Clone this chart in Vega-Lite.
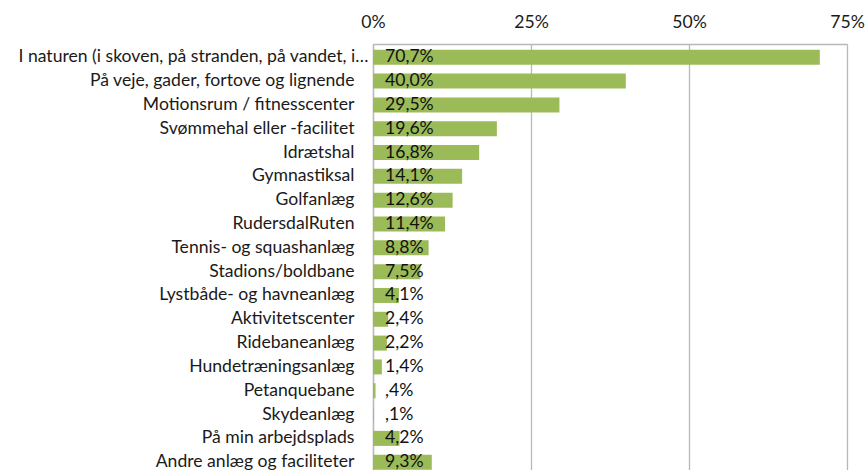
{
  "$schema": "https://vega.github.io/schema/vega-lite/v6.json",
  "width": 474,
  "height": 426,
  "autosize": {"type": "none"},
  "padding": {"left": 373, "top": 44, "right": 19, "bottom": 0},
  "background": "white",
  "config": {
    "view": {"stroke": null},
    "font": "Lato",
    "axis": {"labelFont": "Lato", "labelColor": "#1a1a1a", "ticks": false, "domainColor": "#b8b8b8", "gridColor": "#b8b8b8", "gridWidth": 1.3, "domainWidth": 1.3, "title": null}
  },
  "data": {
    "values": [
      {"cat": "I naturen (i skoven, på stranden, på vandet, i…", "value": 0.707, "label": "70,7%"},
      {"cat": "På veje, gader, fortove og lignende", "value": 0.400, "label": "40,0%"},
      {"cat": "Motionsrum / fitnesscenter", "value": 0.295, "label": "29,5%"},
      {"cat": "Svømmehal eller -facilitet", "value": 0.196, "label": "19,6%"},
      {"cat": "Idrætshal", "value": 0.168, "label": "16,8%"},
      {"cat": "Gymnastiksal", "value": 0.141, "label": "14,1%"},
      {"cat": "Golfanlæg", "value": 0.126, "label": "12,6%"},
      {"cat": "RudersdalRuten", "value": 0.114, "label": "11,4%"},
      {"cat": "Tennis- og squashanlæg", "value": 0.088, "label": "8,8%"},
      {"cat": "Stadions/boldbane", "value": 0.075, "label": "7,5%"},
      {"cat": "Lystbåde- og havneanlæg", "value": 0.041, "label": "4,1%"},
      {"cat": "Aktivitetscenter", "value": 0.024, "label": "2,4%"},
      {"cat": "Ridebaneanlæg", "value": 0.022, "label": "2,2%"},
      {"cat": "Hundetræningsanlæg", "value": 0.014, "label": "1,4%"},
      {"cat": "Petanquebane", "value": 0.004, "label": ",4%"},
      {"cat": "Skydeanlæg", "value": 0.001, "label": ",1%"},
      {"cat": "På min arbejdsplads", "value": 0.042, "label": "4,2%"},
      {"cat": "Andre anlæg og faciliteter", "value": 0.093, "label": "9,3%"}
    ]
  },
  "encoding": {
    "y": {
      "field": "cat",
      "type": "nominal",
      "sort": null,
      "scale": {"paddingInner": 0.37, "paddingOuter": 0.127, "align": 0.95, "round": false},
      "axis": {
        "labelFontSize": 17.6,
        "labelLimit": 400,
        "labelPadding": {"condition": {"test": "indexof(datum.value, 'I naturen') == 0", "value": 5}, "value": 19},
        "domain": true
      }
    }
  },
  "layer": [
    {
      "mark": {"type": "bar", "color": "#9BBB59"},
      "encoding": {
        "x": {
          "field": "value",
          "type": "quantitative",
          "scale": {"domain": [0, 0.75], "nice": false},
          "axis": {
            "orient": "top",
            "values": [0, 0.25, 0.5, 0.75],
            "format": ".0%",
            "grid": true,
            "labelFontSize": 17.6,
            "labelPadding": 13,
            "labelFlush": false,
            "domain": true
          }
        }
      }
    },
    {
      "mark": {"type": "text", "align": "left", "baseline": "middle", "dx": 12, "fontSize": 17.6, "color": "#111111", "font": "Lato"},
      "encoding": {
        "x": {"datum": 0, "type": "quantitative"},
        "text": {"field": "label"}
      }
    }
  ]
}
